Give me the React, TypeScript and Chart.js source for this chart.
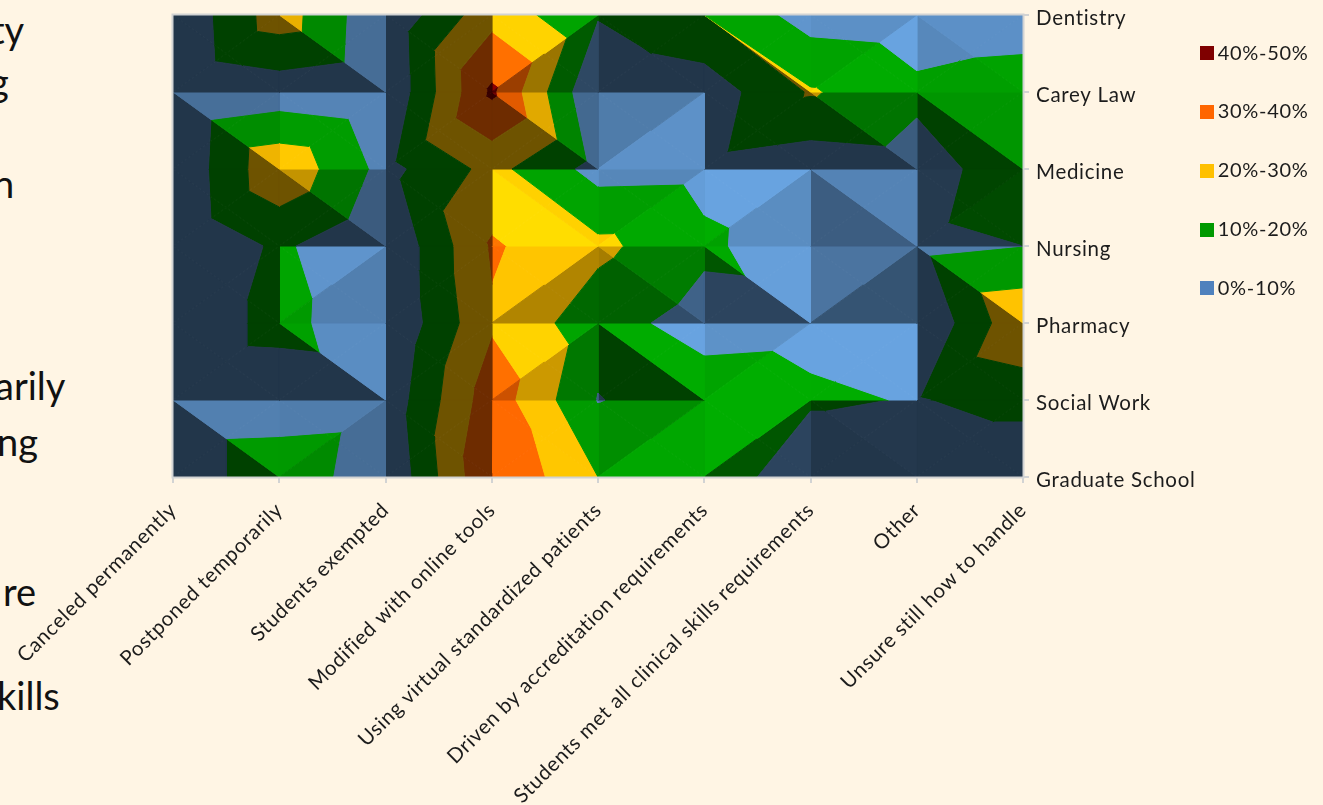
import React, { useEffect, useRef } from "react";
import { Chart, registerables } from "chart.js";

Chart.register(...registerables);

const categories = ["Canceled permanently", "Postponed temporarily", "Students exempted", "Modified with online tools", "Using virtual standardized patients", "Driven by accreditation requirements", "Students met all clinical skills requirements", "Other", "Unsure still how to handle"];
const programs = ["Dentistry", "Carey Law", "Medicine", "Nursing", "Pharmacy", "Social Work", "Graduate School"];

const dentistry = [1, 25.4, 1.4, 26.7, 10.9, 20, 5.7, 4, 5];
const careyLaw = [0, 4.3, 0.5, 42, 0, 4.2, 21, 12.3, 15];
const medicine = [1, 28, 6.8, 23.2, 6.4, 7, 3.6, 5.5, 16];
const nursing = [0, 11.8, 0.5, 31.2, 22.5, 12, 3.2, 7.5, 10];
const pharmacy = [0, 14.4, 0, 28.8, 14, 6, 6.9, 0, 28.4];
const socialWork = [0, 1, 3, 36, 9.6, 15.6, 11.7, 9.4, 14];
const graduateSchool = [0, 20, 0.5, 40.2, 20, 20, 0, 0, 0];
const rows = [dentistry, careyLaw, medicine, nursing, pharmacy, socialWork, graduateSchool];

const bandLabels = ["0%-10%", "10%-20%", "20%-30%", "30%-40%", "40%-50%"];
const bandEdges = [0, 10, 20, 30, 40, 50];
const legendColors = ["#4F81BD", "#009900", "#FFC000", "#FF6600", "#7F0000"];
const facetBases = [[80, 125, 172], [0, 150, 0], [255, 192, 0], [255, 102, 0], [127, 0, 0]];

const sideTexts = [
  ["ty", -9, 29], ["g", -11, 81], ["n", -7, 183], ["arily", -5, 385], ["ng", -3, 441], ["re", 3, 591], ["kills", -3, 695],
];

type P = { x: number; y: number; z: number };

function clipBelow(poly: P[], level: number, keepAbove: boolean): P[] {
  const out: P[] = [];
  for (let i = 0; i < poly.length; i++) {
    const a = poly[i];
    const b = poly[(i + 1) % poly.length];
    const ain = keepAbove ? a.z >= level : a.z <= level;
    const bin = keepAbove ? b.z >= level : b.z <= level;
    if (ain) out.push(a);
    if (ain !== bin) {
      const t = (level - a.z) / (b.z - a.z);
      out.push({ x: a.x + (b.x - a.x) * t, y: a.y + (b.y - a.y) * t, z: level });
    }
  }
  return out;
}

function shade(tri: P[]): number {
  const [a, b, c] = tri;
  const ux = b.x - a.x, uy = b.y - a.y, uz = b.z - a.z;
  const vx = c.x - a.x, vy = c.y - a.y, vz = c.z - a.z;
  const det = ux * vy - uy * vx;
  const gx = (uz * vy - uy * vz) / det;
  const gy = (ux * vz - uz * vx) / det;
  const h = 10;
  const px = -gx, py = gy;
  const n = Math.hypot(px, py, h);
  return Math.max(0.43, 0.55 * (px / n) + 0.66 * (py / n) + 1.12 * (h / n));
}

function toneFor(band: number, s: number): number {
  if (band === 0) {
    if (s <= 0.47) return s;
    return Math.min(s * 0.95, 1.3);
  }
  return s <= 1 ? s : Math.min(1 + (s - 1) * 0.4, 1.2);
}

function buildDatasets() {
  const sets: any[] = [];
  for (let r = 0; r < rows.length - 1; r++) {
    for (let c = 0; c < categories.length - 1; c++) {
      const tl = { x: c, y: r, z: rows[r][c] };
      const tr = { x: c + 1, y: r, z: rows[r][c + 1] };
      const br = { x: c + 1, y: r + 1, z: rows[r + 1][c + 1] };
      const bl = { x: c, y: r + 1, z: rows[r + 1][c] };
      const mid = { x: c + 0.5, y: r + 0.5, z: Math.max((tl.z + br.z) / 2, (tr.z + bl.z) / 2) };
      const tris = [[tl, tr, mid], [tr, br, mid], [br, bl, mid], [bl, tl, mid]];
      for (const tri of tris) {
        const s = shade(tri);
        for (let b = 0; b < bandLabels.length; b++) {
          let poly = clipBelow(tri, bandEdges[b], true);
          if (poly.length) poly = clipBelow(poly, bandEdges[b + 1], false);
          if (poly.length < 3) continue;
          const f = toneFor(b, s);
          const rgb = facetBases[b].map((v) => Math.min(255, Math.round(v * f)));
          const col = `rgb(${rgb[0]},${rgb[1]},${rgb[2]})`;
          sets.push({
            label: bandLabels[b],
            data: [...poly, poly[0]].map((p) => ({ x: p.x, y: p.y })),
            backgroundColor: col,
            borderColor: col,
            borderWidth: 1,
            fill: "shape",
            pointRadius: 0,
            tension: 0,
          });
        }
      }
    }
  }
  return sets;
}

function swatch(color: string) {
  const cv = document.createElement("canvas");
  cv.width = 14;
  cv.height = 14;
  const g = cv.getContext("2d")!;
  g.fillStyle = color;
  g.fillRect(0, 0, 14, 14);
  return cv;
}

const FONT = "Lato";
const TEXT = "#1c1c1c";
const AXIS = "#d2d3d3";

const framePlugin = {
  id: "frameAndLegend",
  afterLayout(chart: any) {
    const lg = chart.legend;
    if (lg) {
      lg.left = 1167;
      lg.top = 4.5;
      lg.right = 1323;
      lg.bottom = 805;
    }
  },
  beforeDraw(chart: any) {
    chart.ctx.letterSpacing = "0.7px";
  },
  afterDatasetsDraw(chart: any) {
    const { ctx, chartArea: a } = chart;
    ctx.save();
    ctx.strokeStyle = AXIS;
    ctx.lineWidth = 2;
    ctx.strokeRect(a.left - 0.5, a.top - 0.5, a.right - a.left + 1, a.bottom - a.top + 1);
    ctx.restore();
  },
};

export default function App() {
  const ref = useRef<HTMLCanvasElement | null>(null);
  useEffect(() => {
    const chart = new Chart(ref.current!, {
      type: "line",
      data: { datasets: buildDatasets() },
      plugins: [framePlugin],
      options: {
        animation: false,
        responsive: false,
        events: [],
        layout: { padding: { left: 173, top: 15, right: 0, bottom: 0 } },
        scales: {
          x: {
            type: "linear",
            min: 0,
            max: categories.length - 1,
            afterFit: (s: any) => { s.height = 805 - 477; },
            afterBuildTicks: (s: any) => { s.ticks = categories.map((_, i) => ({ value: i })); },
            grid: { drawOnChartArea: false, drawTicks: true, tickLength: 6, color: AXIS, lineWidth: 2 },
            border: { display: false },
            ticks: {
              autoSkip: false,
              maxRotation: 45,
              minRotation: 45,
              color: TEXT,
              font: { family: FONT, size: 20.5 },
              padding: 15,
              callback: (v: any) => categories[v],
            },
          },
          y: {
            type: "linear",
            position: "right",
            reverse: true,
            min: 0,
            max: programs.length - 1,
            afterFit: (s: any) => { s.width = 1323 - 1023; s.paddingTop = 0; s.paddingBottom = 0; },
            afterBuildTicks: (s: any) => { s.ticks = programs.map((_, i) => ({ value: i })); },
            grid: { drawOnChartArea: false, drawTicks: true, tickLength: 6, color: AXIS, lineWidth: 2 },
            border: { display: false },
            ticks: {
              autoSkip: false,
              color: TEXT,
              font: { family: FONT, size: 20.5 },
              padding: 7,
              labelOffset: 3,
              callback: (v: any) => programs[v],
            },
          },
        },
        plugins: {
          title: { display: false },
          tooltip: { enabled: false },
          legend: {
            display: true,
            position: "chartArea",
            align: "start",
            labels: {
              boxWidth: 14,
              boxHeight: 14,
              padding: 38.75,
              usePointStyle: true,
              pointStyleWidth: 2,
              color: TEXT,
              font: { family: FONT, size: 20 },
              generateLabels: () =>
                bandLabels
                  .map((t, i) => ({ text: t, fillStyle: legendColors[i], strokeStyle: legendColors[i], lineWidth: 0, hidden: false, fontColor: TEXT, pointStyle: swatch(legendColors[i]) }))
                  .reverse(),
            },
          },
        },
      } as any,
    });
    return () => chart.destroy();
  }, []);

  return (
    <div style={{ position: "fixed", inset: 0, background: "#FFF5E4", overflow: "hidden" }}>
      {sideTexts.map(([t, x, y]) => (
        <span
          key={String(t)}
          style={{ position: "absolute", left: Number(x), top: Number(y) - 24, fontFamily: FONT, fontSize: 38, lineHeight: "48px", color: "#111" }}
        >
          {t}
        </span>
      ))}
      <canvas ref={ref} width={1323} height={805} style={{ position: "absolute", left: 0, top: 0, display: "block" }} />
    </div>
  );
}
